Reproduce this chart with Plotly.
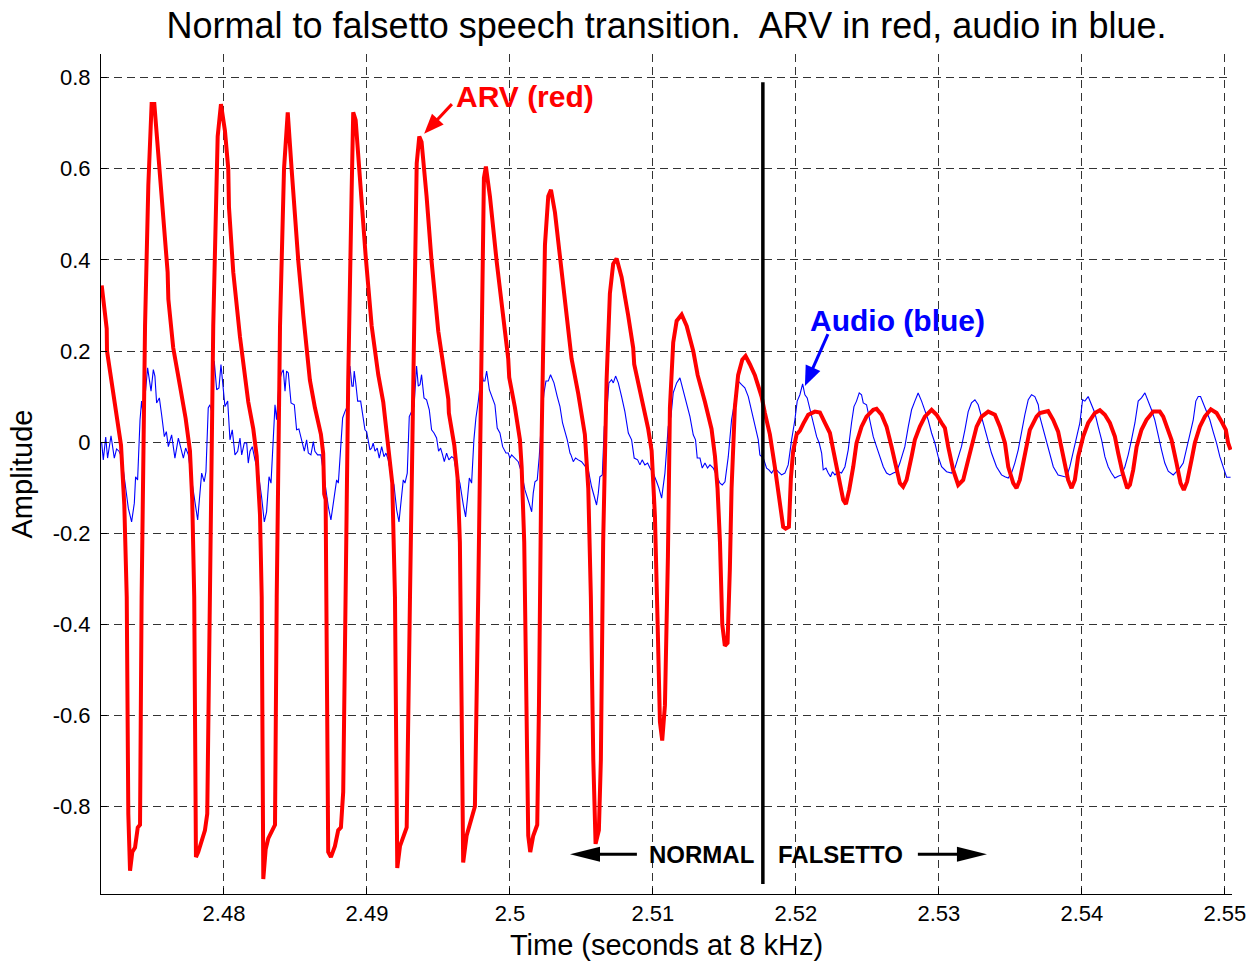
import math
import plotly.graph_objects as go

# ARV signal (seconds, amplitude)
arv_t = [
    2.47145, 2.47180, 2.47182, 2.47238, 2.47280, 2.47303, 2.47320, 2.47331, 2.47343, 2.47359,
    2.47378, 2.47397, 2.47413, 2.47424, 2.47448, 2.47471, 2.47494, 2.47513, 2.47541, 2.47576,
    2.47606, 2.47611, 2.47645, 2.47692, 2.47732, 2.47762, 2.47778, 2.47792, 2.47804, 2.47820,
    2.47844, 2.47867, 2.47883, 2.47902, 2.47925, 2.47956, 2.47979, 2.48007, 2.48030, 2.48035,
    2.48065, 2.48112, 2.48170, 2.48205, 2.48229, 2.48252, 2.48264, 2.48275, 2.48292, 2.48310,
    2.48334, 2.48357, 2.48369, 2.48392, 2.48420, 2.48446, 2.48473, 2.48520, 2.48555, 2.48601,
    2.48636, 2.48678, 2.48694, 2.48701, 2.48711, 2.48729, 2.48748, 2.48776, 2.48799, 2.48818,
    2.48834, 2.48869, 2.48893, 2.48904, 2.48921, 2.48951, 2.48991, 2.49033, 2.49079, 2.49114,
    2.49126, 2.49149, 2.49177, 2.49196, 2.49212, 2.49231, 2.49254, 2.49278, 2.49301, 2.49324,
    2.49348, 2.49366, 2.49382, 2.49417, 2.49452, 2.49499, 2.49545, 2.49569, 2.49573, 2.49611,
    2.49634, 2.49650, 2.49662, 2.49673, 2.49697, 2.49720, 2.49755, 2.49778, 2.49804, 2.49818,
    2.49832, 2.49860, 2.49907, 2.49953, 2.49988, 2.49995, 2.50035, 2.50070, 2.50082, 2.50100,
    2.50117, 2.50128, 2.50142, 2.50163, 2.50191, 2.50203, 2.50222, 2.50245, 2.50268, 2.50287,
    2.50315, 2.50350, 2.50385, 2.50420, 2.50431, 2.50478, 2.50524, 2.50548, 2.50566, 2.50583,
    2.50599, 2.50622, 2.50636, 2.50652, 2.50676, 2.50699, 2.50722, 2.50746, 2.50781, 2.50827,
    2.50862, 2.50869, 2.50921, 2.50967, 2.50991, 2.51014, 2.51033, 2.51049, 2.51065, 2.51084,
    2.51105, 2.51119, 2.51142, 2.51166, 2.51201, 2.51236, 2.51282, 2.51306, 2.51313, 2.51364,
    2.51410, 2.51434, 2.51452, 2.51469, 2.51485, 2.51503, 2.51522, 2.51538, 2.51550, 2.51573,
    2.51596, 2.51625, 2.51648, 2.51678, 2.51713, 2.51736, 2.51760, 2.51783, 2.51818, 2.51853,
    2.51888, 2.51911, 2.51928, 2.51951, 2.51965, 2.51981, 2.52005, 2.52028, 2.52051, 2.52086,
    2.52133, 2.52168, 2.52203, 2.52238, 2.52261, 2.52285, 2.52308, 2.52331, 2.52350, 2.52373,
    2.52401, 2.52424, 2.52459, 2.52494, 2.52541, 2.52564, 2.52599, 2.52634, 2.52669, 2.52704,
    2.52727, 2.52750, 2.52774, 2.52809, 2.52832, 2.52867, 2.52902, 2.52949, 2.52984, 2.53019,
    2.53042, 2.53065, 2.53100, 2.53135, 2.53170, 2.53205, 2.53240, 2.53264, 2.53299, 2.53345,
    2.53392, 2.53427, 2.53462, 2.53485, 2.53520, 2.53543, 2.53566, 2.53601, 2.53636, 2.53683,
    2.53706, 2.53764, 2.53799, 2.53834, 2.53858, 2.53881, 2.53904, 2.53928, 2.53951, 2.53974,
    2.54009, 2.54044, 2.54091, 2.54126, 2.54161, 2.54196, 2.54231, 2.54254, 2.54285, 2.54317,
    2.54336, 2.54359, 2.54383, 2.54417, 2.54452, 2.54499, 2.54545, 2.54569, 2.54592, 2.54627,
    2.54662, 2.54690, 2.54713, 2.54736, 2.54767, 2.54790, 2.54825, 2.54860, 2.54902, 2.54942,
    2.54977, 2.55007, 2.55023, 2.55040,
]
arv_v = [
    0.344, 0.249, 0.200, 0.088, -0.007, -0.138, -0.340, -0.816, -0.941, -0.900,
    -0.890, -0.846, -0.840, -0.340, 0.255, 0.564, 0.742, 0.742, 0.635, 0.490,
    0.373, 0.314, 0.207, 0.124, 0.052, -0.019, -0.126, -0.340, -0.911, -0.900,
    -0.876, -0.852, -0.816, -0.340, 0.255, 0.671, 0.742, 0.683, 0.600, 0.516,
    0.373, 0.231, 0.088, 0.029, -0.031, -0.160, -0.340, -0.959, -0.893, -0.870,
    -0.852, -0.840, -0.340, 0.255, 0.600, 0.724, 0.600, 0.397, 0.278, 0.136,
    0.076, 0.017, -0.025, -0.114, -0.126, -0.900, -0.911, -0.887, -0.852, -0.846,
    -0.768, 0.136, 0.552, 0.724, 0.707, 0.576, 0.409, 0.255, 0.148, 0.088,
    0.052, -0.007, -0.090, -0.340, -0.935, -0.887, -0.864, -0.846, -0.340, 0.136,
    0.612, 0.671, 0.659, 0.540, 0.397, 0.243, 0.136, 0.094, 0.064, -0.007,
    -0.079, -0.220, -0.578, -0.923, -0.864, -0.840, -0.800, -0.340, 0.350, 0.580,
    0.605, 0.540, 0.397, 0.278, 0.183, 0.142, 0.076, 0.005, -0.055, -0.220,
    -0.578, -0.864, -0.900, -0.864, -0.840, -0.578, 0.017, 0.433, 0.540, 0.554,
    0.504, 0.409, 0.314, 0.219, 0.183, 0.106, 0.017, -0.102, -0.340, -0.697,
    -0.882, -0.852, -0.697, -0.220, 0.136, 0.326, 0.391, 0.403, 0.362, 0.278,
    0.207, 0.171, 0.100, 0.029, -0.019, -0.162, -0.400, -0.614, -0.655, -0.578,
    -0.250, 0.076, 0.219, 0.266, 0.280, 0.255, 0.200, 0.165, 0.147, 0.088,
    0.029, -0.031, -0.102, -0.220, -0.400, -0.447, -0.441, -0.280, -0.102, 0.076,
    0.147, 0.181, 0.189, 0.171, 0.147, 0.124, 0.100, 0.064, 0.017, -0.055,
    -0.138, -0.186, -0.190, -0.186, -0.079, -0.019, 0.017, 0.025, 0.040, 0.060,
    0.067, 0.065, 0.042, 0.020, -0.017, -0.054, -0.098, -0.127, -0.136, -0.105,
    -0.054, -0.002, 0.034, 0.056, 0.071, 0.073, 0.060, 0.034, -0.010, -0.061,
    -0.090, -0.098, -0.083, -0.032, 0.005, 0.034, 0.056, 0.071, 0.060, 0.042,
    0.031, -0.010, -0.061, -0.094, -0.083, -0.039, 0.005, 0.034, 0.056, 0.067,
    0.060, 0.034, -0.002, -0.054, -0.090, -0.101, -0.083, -0.024, 0.027, 0.056,
    0.064, 0.068, 0.049, 0.023, -0.010, -0.046, -0.083, -0.101, -0.083, -0.032,
    0.012, 0.042, 0.064, 0.070, 0.060, 0.042, 0.012, -0.024, -0.068, -0.101,
    -0.094, -0.061, -0.010, 0.027, 0.049, 0.067, 0.067, 0.056, 0.038, 0.005,
    -0.046, -0.090, -0.105, -0.087, -0.039, -0.002, 0.034, 0.056, 0.072, 0.064,
    0.045, 0.027, -0.002, -0.017,
]

# Audio signal (seconds, amplitude)
audio_t = [
    2.47145, 2.47156, 2.47173, 2.47186, 2.47210, 2.47233, 2.47249, 2.47266, 2.47284, 2.47303,
    2.47319, 2.47331, 2.47354, 2.47373, 2.47382, 2.47396, 2.47413, 2.47424, 2.47438, 2.47448,
    2.47466, 2.47478, 2.47490, 2.47506, 2.47517, 2.47529, 2.47548, 2.47564, 2.47583, 2.47597,
    2.47611, 2.47634, 2.47657, 2.47681, 2.47699, 2.47716, 2.47732, 2.47751, 2.47774, 2.47797,
    2.47816, 2.47832, 2.47844, 2.47862, 2.47874, 2.47890, 2.47902, 2.47914, 2.47932, 2.47949,
    2.47965, 2.47979, 2.47995, 2.48007, 2.48026, 2.48042, 2.48058, 2.48077, 2.48096, 2.48112,
    2.48124, 2.48142, 2.48159, 2.48170, 2.48182, 2.48198, 2.48217, 2.48240, 2.48263, 2.48282,
    2.48298, 2.48315, 2.48329, 2.48345, 2.48357, 2.48368, 2.48385, 2.48403, 2.48415, 2.48427,
    2.48438, 2.48450, 2.48469, 2.48492, 2.48508, 2.48524, 2.48543, 2.48562, 2.48578, 2.48590,
    2.48608, 2.48625, 2.48636, 2.48655, 2.48678, 2.48706, 2.48730, 2.48748, 2.48765, 2.48776,
    2.48788, 2.48800, 2.48816, 2.48830, 2.48846, 2.48862, 2.48881, 2.48895, 2.48904, 2.48911,
    2.48923, 2.48935, 2.48956, 2.48974, 2.48986, 2.48998, 2.49009, 2.49021, 2.49033, 2.49044,
    2.49056, 2.49072, 2.49086, 2.49103, 2.49119, 2.49133, 2.49149, 2.49173, 2.49189, 2.49208,
    2.49224, 2.49236, 2.49254, 2.49266, 2.49282, 2.49296, 2.49312, 2.49329, 2.49347, 2.49359,
    2.49371, 2.49382, 2.49399, 2.49417, 2.49436, 2.49452, 2.49469, 2.49487, 2.49501, 2.49515,
    2.49529, 2.49541, 2.49557, 2.49573, 2.49592, 2.49608, 2.49627, 2.49650, 2.49674, 2.49690,
    2.49702, 2.49716, 2.49732, 2.49748, 2.49762, 2.49779, 2.49802, 2.49814, 2.49825, 2.49837,
    2.49856, 2.49872, 2.49895, 2.49911, 2.49930, 2.49949, 2.49972, 2.49988, 2.50000, 2.50012,
    2.50035, 2.50058, 2.50082, 2.50105, 2.50134, 2.50152, 2.50163, 2.50175, 2.50191, 2.50205,
    2.50221, 2.50238, 2.50252, 2.50268, 2.50284, 2.50308, 2.50331, 2.50350, 2.50368, 2.50385,
    2.50401, 2.50420, 2.50427, 2.50443, 2.50459, 2.50478, 2.50501, 2.50524, 2.50548, 2.50571,
    2.50590, 2.50606, 2.50618, 2.50629, 2.50646, 2.50660, 2.50676, 2.50692, 2.50711, 2.50723,
    2.50739, 2.50758, 2.50781, 2.50804, 2.50828, 2.50851, 2.50869, 2.50893, 2.50909, 2.50925,
    2.50944, 2.50963, 2.50979, 2.51002, 2.51026, 2.51042, 2.51061, 2.51072, 2.51084, 2.51107,
    2.51126, 2.51142, 2.51166, 2.51189, 2.51212, 2.51236, 2.51259, 2.51282, 2.51298, 2.51310,
    2.51329, 2.51345, 2.51364, 2.51382, 2.51399, 2.51422, 2.51445, 2.51469, 2.51485, 2.51504,
    2.51527, 2.51550, 2.51574, 2.51597, 2.51620, 2.51643, 2.51667, 2.51690, 2.51713, 2.51737,
    2.51748, 2.51772, 2.51795, 2.51811, 2.51830, 2.51853, 2.51876, 2.51900, 2.51923, 2.51946,
    2.51970, 2.51993, 2.52009, 2.52028, 2.52047, 2.52063, 2.52079, 2.52098, 2.52121, 2.52145,
    2.52163, 2.52180, 2.52191, 2.52210, 2.52226, 2.52242, 2.52256, 2.52273, 2.52296, 2.52319,
    2.52343, 2.52366, 2.52389, 2.52406, 2.52424, 2.52443, 2.52459, 2.52471, 2.52494, 2.52518,
    2.52541, 2.52564, 2.52587, 2.52611, 2.52634, 2.52657, 2.52681, 2.52704, 2.52727, 2.52762,
    2.52786, 2.52809, 2.52832, 2.52855, 2.52879, 2.52902, 2.52925, 2.52949, 2.52972, 2.52995,
    2.53019, 2.53054, 2.53089, 2.53112, 2.53135, 2.53158, 2.53182, 2.53205, 2.53228, 2.53252,
    2.53275, 2.53298, 2.53322, 2.53345, 2.53368, 2.53403, 2.53438, 2.53462, 2.53485, 2.53508,
    2.53531, 2.53555, 2.53578, 2.53601, 2.53625, 2.53648, 2.53671, 2.53695, 2.53706, 2.53730,
    2.53753, 2.53776, 2.53800, 2.53834, 2.53869, 2.53893, 2.53916, 2.53939, 2.53963, 2.53986,
    2.54005, 2.54021, 2.54044, 2.54068, 2.54091, 2.54114, 2.54138, 2.54161, 2.54184, 2.54207,
    2.54231, 2.54254, 2.54277, 2.54301, 2.54324, 2.54347, 2.54371, 2.54394, 2.54417, 2.54441,
    2.54464, 2.54487, 2.54510, 2.54534, 2.54557, 2.54580, 2.54604, 2.54639, 2.54662, 2.54685,
    2.54709, 2.54732, 2.54755, 2.54779, 2.54797, 2.54814, 2.54830, 2.54848, 2.54872, 2.54895,
    2.54918, 2.54942, 2.54965, 2.54988, 2.55012, 2.55040,
]
audio_v = [
    -0.002, -0.039, 0.011, -0.035, 0.014, -0.035, -0.015, -0.020, -0.032, -0.076,
    -0.112, -0.145, -0.175, -0.134, -0.076, -0.083, 0.049, 0.090, 0.049, 0.100,
    0.163, 0.137, 0.112, 0.159, 0.145, 0.086, 0.097, 0.060, 0.012, 0.023,
    -0.010, 0.016, -0.035, 0.009, -0.017, -0.035, -0.013, -0.028, -0.083, -0.127,
    -0.171, -0.112, -0.068, -0.087, -0.065, 0.075, 0.082, 0.067, 0.178, 0.115,
    0.119, 0.170, 0.115, 0.078, 0.090, 0.005, 0.027, -0.028, -0.020, 0.009,
    -0.028, -0.002, -0.002, -0.046, -0.020, -0.010, -0.039, -0.068, -0.120, -0.175,
    -0.153, -0.076, -0.090, 0.012, 0.082, 0.049, 0.130, 0.152, 0.159, 0.112,
    0.156, 0.152, 0.086, 0.082, 0.027, 0.029, 0.001, -0.020, 0.005, -0.024,
    -0.028, 0.001, -0.020, -0.028, -0.028, -0.090, -0.142, -0.171, -0.134, -0.112,
    -0.083, -0.090, -0.017, 0.053, 0.067, 0.078, 0.167, 0.123, 0.123, 0.156,
    0.126, 0.090, 0.090, 0.056, 0.027, 0.023, 0.001, -0.017, -0.013, -0.002,
    -0.020, -0.013, -0.035, -0.010, -0.032, -0.024, -0.039, -0.079, -0.094, -0.149,
    -0.175, -0.134, -0.083, -0.090, -0.068, 0.056, 0.067, 0.078, 0.167, 0.123,
    0.126, 0.148, 0.097, 0.093, 0.071, 0.027, 0.020, 0.009, -0.020, -0.013,
    -0.028, -0.043, -0.024, -0.039, -0.032, -0.035, -0.068, -0.090, -0.138, -0.164,
    -0.127, -0.079, -0.090, 0.005, 0.053, 0.090, 0.156, 0.134, 0.134, 0.156,
    0.115, 0.100, 0.082, 0.031, 0.020, -0.010, -0.024, -0.024, -0.035, -0.028,
    -0.035, -0.043, -0.068, -0.105, -0.134, -0.153, -0.112, -0.087, -0.083, -0.032,
    0.049, 0.108, 0.134, 0.134, 0.148, 0.130, 0.100, 0.078, 0.042, 0.023,
    0.005, -0.024, -0.028, -0.043, -0.035, -0.039, -0.043, -0.052, -0.061, -0.098,
    -0.120, -0.138, -0.112, -0.076, -0.072, 0.034, 0.060, 0.130, 0.137, 0.130,
    0.145, 0.130, 0.100, 0.067, 0.020, 0.005, -0.035, -0.039, -0.050, -0.039,
    -0.050, -0.046, -0.057, -0.068, -0.087, -0.101, -0.123, -0.090, -0.068, 0.034,
    0.056, 0.108, 0.130, 0.141, 0.115, 0.086, 0.056, 0.016, 0.005, -0.035,
    -0.035, -0.057, -0.046, -0.057, -0.050, -0.057, -0.072, -0.090, -0.094, -0.087,
    -0.032, 0.049, 0.093, 0.134, 0.126, 0.119, 0.100, 0.067, 0.034, 0.005,
    -0.028, -0.035, -0.057, -0.061, -0.068, -0.057, -0.065, -0.072, -0.068, -0.050,
    0.005, 0.049, 0.090, 0.104, 0.128, 0.104, 0.097, 0.071, 0.042, 0.012,
    -0.002, -0.024, -0.061, -0.057, -0.068, -0.076, -0.065, -0.072, -0.065, -0.068,
    -0.054, -0.017, 0.042, 0.078, 0.090, 0.108, 0.104, 0.086, 0.082, 0.049,
    0.012, -0.010, -0.032, -0.054, -0.068, -0.072, -0.068, -0.065, -0.046, -0.010,
    0.034, 0.071, 0.090, 0.108, 0.090, 0.071, 0.049, 0.020, -0.002, -0.032,
    -0.054, -0.065, -0.068, -0.057, -0.035, -0.010, 0.027, 0.067, 0.086, 0.093,
    0.082, 0.056, 0.034, 0.005, -0.024, -0.054, -0.072, -0.076, -0.079, -0.068,
    -0.046, -0.017, 0.023, 0.060, 0.093, 0.104, 0.100, 0.082, 0.056, 0.027,
    0.005, -0.024, -0.054, -0.072, -0.076, -0.077, -0.054, -0.024, 0.012, 0.042,
    0.093, 0.090, 0.100, 0.082, 0.064, 0.034, 0.005, -0.032, -0.054, -0.068,
    -0.079, -0.075, -0.072, -0.054, -0.028, 0.005, 0.042, 0.090, 0.097, 0.108,
    0.090, 0.071, 0.049, 0.012, -0.017, -0.046, -0.064, -0.072, -0.065, -0.057,
    -0.046, -0.017, 0.012, 0.049, 0.090, 0.100, 0.100, 0.086, 0.067, 0.049,
    0.023, -0.002, -0.032, -0.054, -0.077, -0.077,
]

x_ticks = [2.48, 2.49, 2.50, 2.51, 2.52, 2.53, 2.54, 2.55]
x_tick_labels = ["2.48", "2.49", "2.5", "2.51", "2.52", "2.53", "2.54", "2.55"]
y_ticks = [-0.8, -0.6, -0.4, -0.2, 0.0, 0.2, 0.4, 0.6, 0.8]
y_tick_labels = ["-0.8", "-0.6", "-0.4", "-0.2", "0", "0.2", "0.4", "0.6", "0.8"]

x_range = [2.4714, 2.5505]
y_range = [-0.992, 0.852]

# Moment of the register change, and the extent of the marker line
transition_t = 2.51769
marker_top, marker_bottom = 0.79, -0.97

FONT = "Liberation Sans, Arial, Helvetica, sans-serif"
W, H = 1256, 961
MARGIN = dict(l=101, r=24, t=54, b=67)
plot_w = W - MARGIN["l"] - MARGIN["r"]
plot_h = H - MARGIN["t"] - MARGIN["b"]
px_per_x = plot_w / (x_range[1] - x_range[0])
px_per_y = plot_h / (y_range[1] - y_range[0])

fig = go.Figure()
fig.add_trace(go.Scatter(x=audio_t, y=audio_v, mode="lines",
                         line=dict(color="#0000FF", width=1.1), name="Audio",
                         hoverinfo="skip"))
fig.add_trace(go.Scatter(x=arv_t, y=arv_v, mode="lines",
                         line=dict(color="#FF0000", width=4), name="ARV",
                         hoverinfo="skip"))

fig.add_shape(type="line", xref="x", yref="y",
              x0=transition_t, x1=transition_t, y0=marker_bottom, y1=marker_top,
              line=dict(color="black", width=3.5))


def add_arrow(tail, tip, color, width, head_len, head_w):
    """Shaft from tail to tip (data units) with a filled triangular head."""
    dx = (tip[0] - tail[0]) * px_per_x
    dy = (tip[1] - tail[1]) * px_per_y
    n = math.hypot(dx, dy)
    ux, uy = dx / n, dy / n
    nx, ny = -uy, ux
    bx, by = -head_len * ux, -head_len * uy
    c1 = (bx + nx * head_w / 2, by + ny * head_w / 2)
    c2 = (bx - nx * head_w / 2, by - ny * head_w / 2)
    shaft_end = (tip[0] - 0.6 * head_len * ux / px_per_x,
                 tip[1] - 0.6 * head_len * uy / px_per_y)
    fig.add_shape(type="line", xref="x", yref="y",
                  x0=tail[0], y0=tail[1], x1=shaft_end[0], y1=shaft_end[1],
                  line=dict(color=color, width=width))
    fig.add_shape(type="path", xref="x", yref="y",
                  xsizemode="pixel", ysizemode="pixel",
                  xanchor=tip[0], yanchor=tip[1],
                  path=f"M0,0 L{c1[0]:.2f},{c1[1]:.2f} L{c2[0]:.2f},{c2[1]:.2f} Z",
                  fillcolor=color, line=dict(width=0))


axis_common = dict(
    showline=True, linecolor="black", linewidth=1, mirror=False,
    ticks="inside", ticklen=6, tickcolor="black",
    showgrid=True, gridcolor="#333333", gridwidth=1, griddash="8px,5px",
    zeroline=False, tickfont=dict(family=FONT, size=22, color="black"),
)

fig.update_xaxes(range=x_range, tickvals=x_ticks, ticktext=x_tick_labels,
                 title=dict(text="Time (seconds at 8 kHz)",
                            font=dict(family=FONT, size=29, color="black"),
                            standoff=9),
                 **axis_common)
fig.update_yaxes(range=y_range, tickvals=y_ticks, ticktext=y_tick_labels,
                 ticklabelstandoff=5,
                 title=dict(text="Amplitude",
                            font=dict(family=FONT, size=29, color="black"),
                            standoff=11),
                 **axis_common)

# Callout labels and arrows
bold_red = dict(family=FONT, size=30, color="#FF0000")
bold_blue = dict(family=FONT, size=30, color="#0000FF")
bold_black = dict(family=FONT, size=24, color="black")

fig.add_annotation(x=2.50105, y=0.758, text="<b>ARV (red)</b>", showarrow=False,
                   font=bold_red, xanchor="center", yanchor="middle")
add_arrow((2.49594, 0.742), (2.49400, 0.677), "#FF0000", 3, 20, 16)

fig.add_annotation(x=2.52710, y=0.266, text="<b>Audio (blue)</b>", showarrow=False,
                   font=bold_blue, xanchor="center", yanchor="middle")
add_arrow((2.52224, 0.237), (2.52063, 0.123), "#0000FF", 3, 20, 16)

fig.add_annotation(x=2.51343, y=-0.905, text="<b>NORMAL</b>", showarrow=False,
                   font=bold_black, xanchor="center", yanchor="middle")
add_arrow((2.50888, -0.905), (2.50420, -0.905), "black", 3, 30, 15)

fig.add_annotation(x=2.52315, y=-0.905, text="<b>FALSETTO</b>", showarrow=False,
                   font=bold_black, xanchor="center", yanchor="middle")
add_arrow((2.52853, -0.905), (2.53336, -0.905), "black", 3, 30, 15)

fig.update_layout(
    width=W, height=H,
    margin=dict(**MARGIN, autoexpand=False),
    paper_bgcolor="white", plot_bgcolor="white",
    showlegend=False,
    font=dict(family=FONT, color="black"),
    title=dict(text="Normal to falsetto speech transition.  ARV in red, audio in blue.",
               font=dict(family=FONT, size=36, color="black"),
               x=0.5, xref="paper", xanchor="center",
               y=1 - 25 / H, yref="container", yanchor="middle"),
)

fig.write_html("out.html")
